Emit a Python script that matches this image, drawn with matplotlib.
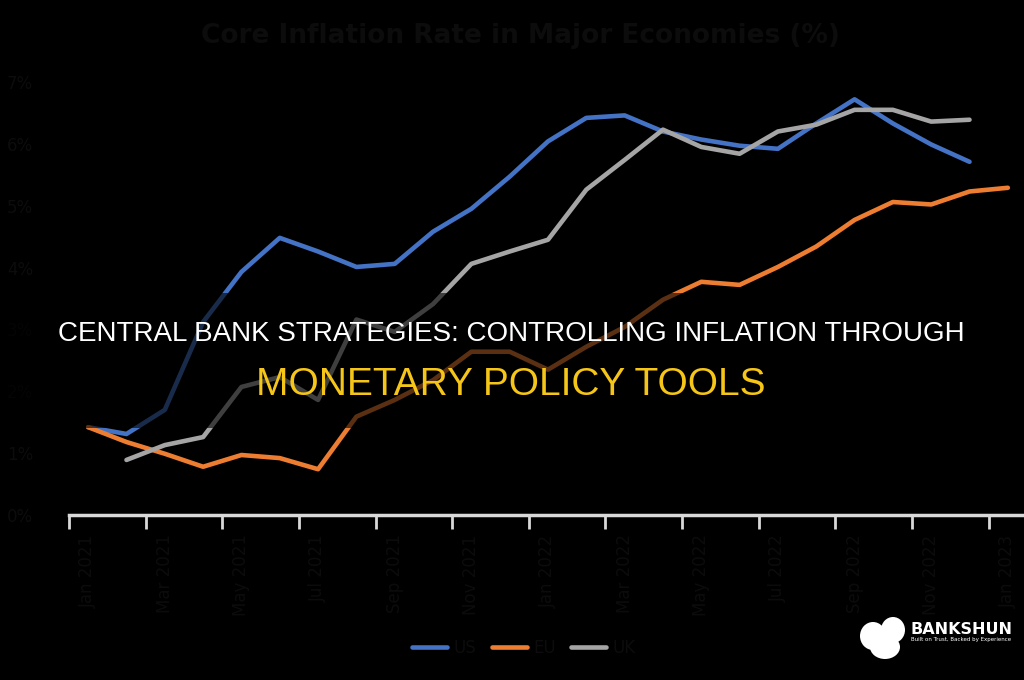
import matplotlib
matplotlib.use("Agg")
import matplotlib.pyplot as plt
import numpy as np
from matplotlib.patches import Rectangle, Ellipse

# ---- data ----
months = ["Jan 2021", "Feb 2021", "Mar 2021", "Apr 2021", "May 2021", "Jun 2021",
          "Jul 2021", "Aug 2021", "Sep 2021", "Oct 2021", "Nov 2021", "Dec 2021",
          "Jan 2022", "Feb 2022", "Mar 2022", "Apr 2022", "May 2022", "Jun 2022",
          "Jul 2022", "Aug 2022", "Sep 2022", "Oct 2022", "Nov 2022", "Dec 2022",
          "Jan 2023"]
us = [1.42, 1.31, 1.70, 3.12, 3.93, 4.48, 4.26, 4.01, 4.06, 4.58, 4.95, 5.47,
      6.04, 6.42, 6.46, 6.20, 6.07, 5.97, 5.92, 6.33, 6.72, 6.33, 5.99, 5.71, np.nan]
eu = [1.42, 1.18, 0.99, 0.78, 0.97, 0.92, 0.74, 1.59, 1.86, 2.18, 2.64, 2.64,
      2.35, 2.72, 3.04, 3.48, 3.77, 3.72, 4.01, 4.34, 4.77, 5.06, 5.02, 5.23, 5.29]
uk = [np.nan, 0.89, 1.13, 1.26, 2.07, 2.23, 1.86, 3.16, 2.96, 3.41, 4.06, 4.26,
      4.45, 5.26, 5.74, 6.23, 5.95, 5.84, 6.20, 6.31, 6.55, 6.55, 6.36, 6.39, np.nan]
series_names = ["US", "EU", "UK"]
series_colors = ["#4472C4", "#ED7D31", "#A5A5A5"]
y_ticks = [0, 1, 2, 3, 4, 5, 6, 7]
y_labels = ["0%", "1%", "2%", "3%", "4%", "5%", "6%", "7%"]
chart_title = "Core Inflation Rate in Major Economies (%)"
headline1 = "CENTRAL BANK STRATEGIES: CONTROLLING INFLATION THROUGH"
headline2 = "MONETARY POLICY TOOLS"

W, H = 1024, 680
fig = plt.figure(figsize=(W / 100, H / 100), dpi=100, facecolor="black")

def fx(px):
    return px / W

def fy(py):
    return 1 - py / H

left_px, right_px = 69, 1027
bottom_px, top_px = 515, 82
ax = fig.add_axes([fx(left_px), fy(bottom_px), fx(right_px - left_px), (bottom_px - top_px) / H])
ax.set_facecolor("black")

x = np.arange(len(months))
for vals, name, col in zip([us, eu, uk], series_names, series_colors):
    ax.plot(x, vals, color=col, lw=3.3, label=name, solid_capstyle="round",
            solid_joinstyle="round")

ax.set_xlim(-0.5, len(months) - 0.5)
ax.set_ylim(0, 7)

dark = "#0c0c0c"
ax.set_yticks(y_ticks)
ax.set_yticklabels(y_labels, color=dark, fontsize=12)
ax.tick_params(axis="y", length=0, pad=26)

major = np.arange(-0.5, len(months), 2)
ax.set_xticks(major)
ax.set_xticklabels([])
ax.tick_params(axis="x", which="major", length=10, width=2, color="#d9d9d9")
ax.set_xticks(x[::2], minor=True)
ax.set_xticklabels(months[::2], minor=True, rotation=90, color=dark, fontsize=12)
ax.tick_params(axis="x", which="minor", length=0, pad=14)

for s in ["top", "right", "left"]:
    ax.spines[s].set_visible(False)
ax.spines["bottom"].set_color("#d9d9d9")
ax.spines["bottom"].set_linewidth(2.5)

fig.text(0.508, fy(36), chart_title, ha="center", va="center", fontsize=19,
         fontweight="bold", color=dark)

leg = fig.legend(loc="center", bbox_to_anchor=(fx(524), fy(648)), ncol=3, frameon=False,
                 fontsize=12, handlelength=2.1, columnspacing=0.9, handletextpad=0.4)
for t in leg.get_texts():
    t.set_color(dark)

# dark overlay band
fig.add_artist(Rectangle((0, fy(428)), 1, (428 - 293) / H, transform=fig.transFigure,
                         facecolor="black", alpha=0.62, edgecolor="none", zorder=5))

fam = ["Liberation Sans", "DejaVu Sans"]
fig.text(fx(511), fy(334), headline1, ha="center", va="center", fontsize=20,
         color="white", family=fam, zorder=6)
fig.text(fx(511), fy(385), headline2, ha="center", va="center", fontsize=28,
         color="#F5C518", family=fam, zorder=6)

# logo
for (cx, cy, w, h) in [(873, 636, 26, 28), (893, 630, 24, 26), (885, 647, 30, 24)]:
    fig.add_artist(Ellipse((fx(cx), fy(cy)), fx(w), h / H, transform=fig.transFigure,
                           facecolor="white", edgecolor="none", zorder=6))
fig.text(fx(910), fy(629), "BANKSHUN", ha="left", va="center", fontsize=11.5,
         fontweight="bold", color="white", zorder=6)
fig.text(fx(911), fy(640), "Built on Trust, Backed by Experience", ha="left", va="center",
         fontsize=4, color="white", zorder=6)

fig.savefig("out.png", dpi=100, facecolor="black")
